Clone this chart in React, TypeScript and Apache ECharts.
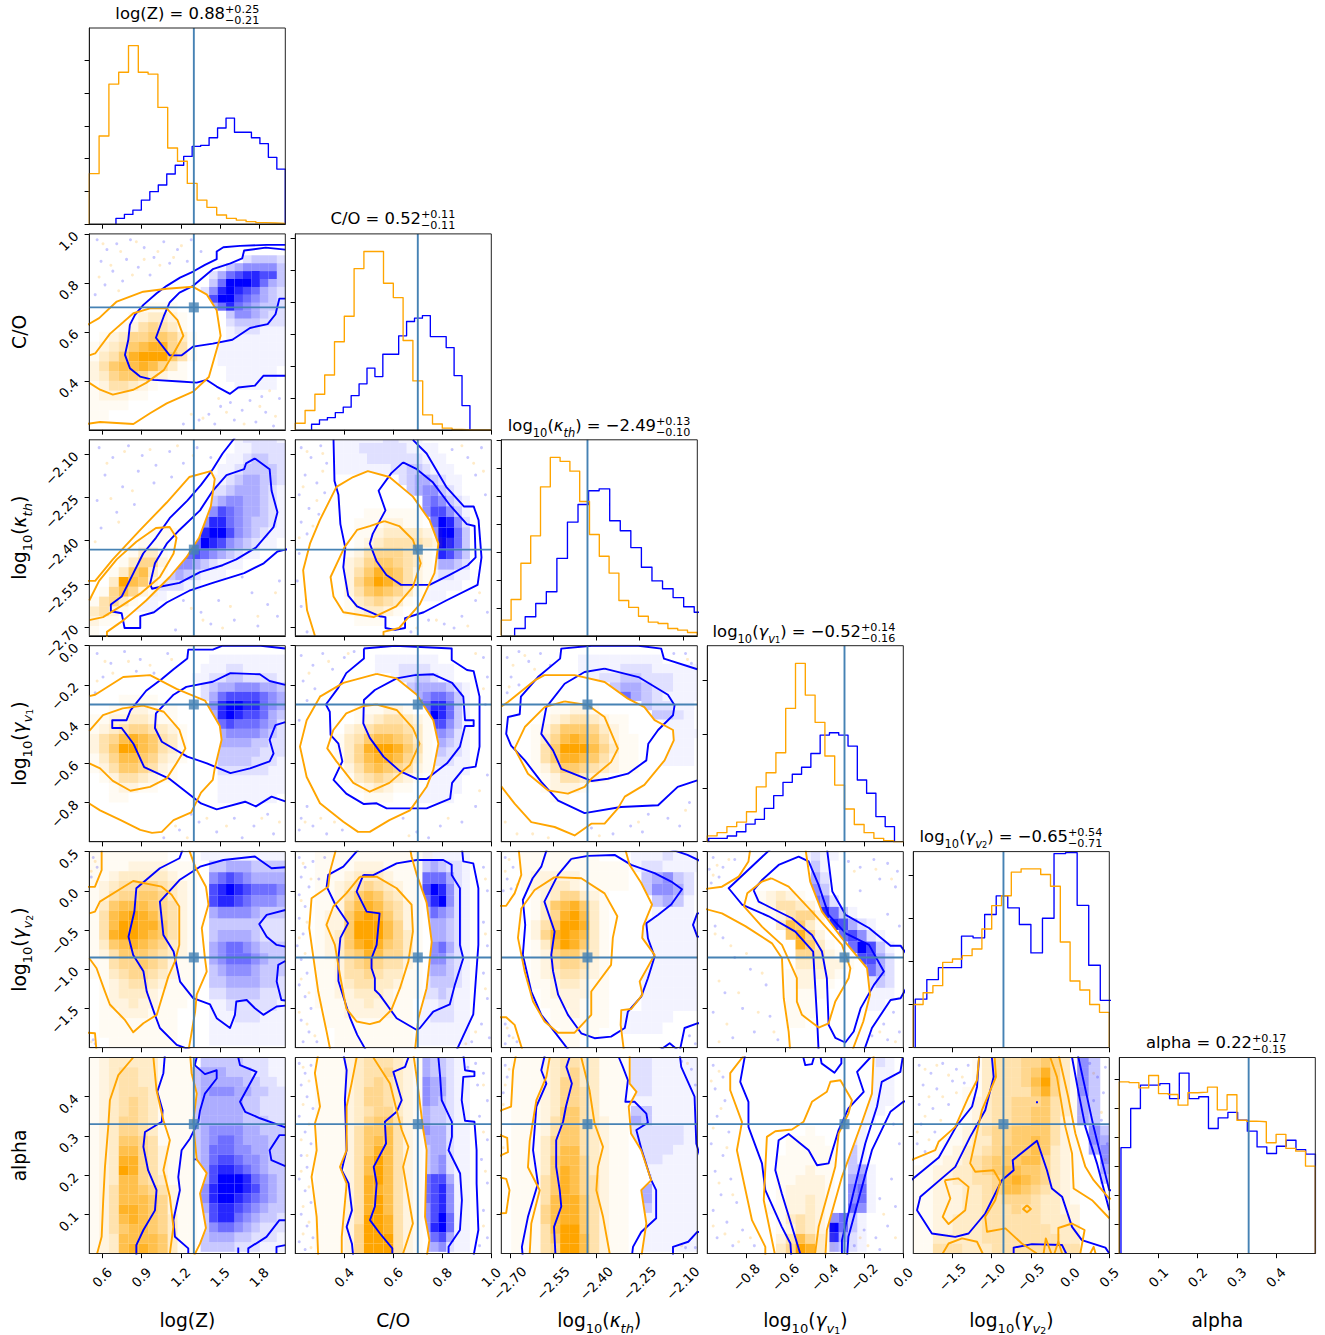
import React, { useEffect, useRef } from "react";
import * as echarts from "echarts";

const FONT = '"DejaVu Sans"';
const BLUE = "#0000ff";
const ORANGE = "#ffa500";
const TRUTH = "#4682b4";

// parameters: axis ranges, truths, ticks
const rangeLogZ = [0.5, 2.0];
const rangeCO = [0.2, 1.0];
const rangeKappa = [-2.73, -2.05];
const rangeG1 = [-1.0, 0.0];
const rangeG2 = [-2.0, 0.5];
const rangeAlpha = [0.0, 0.5];
const ranges = [rangeLogZ, rangeCO, rangeKappa, rangeG1, rangeG2, rangeAlpha];
const truths = [1.3, 0.7, -2.431, -0.3, -0.85, 0.33];
const ticksLogZ = [0.6, 0.9, 1.2, 1.5, 1.8];
const ticksCO = [0.4, 0.6, 0.8, 1.0];
const ticksKappa = [-2.7, -2.55, -2.4, -2.25, -2.1];
const ticksG1 = [-0.8, -0.6, -0.4, -0.2, 0.0];
const ticksG2 = [-1.5, -1.0, -0.5, 0.0, 0.5];
const ticksAlpha = [0.1, 0.2, 0.3, 0.4];
const ticks = [ticksLogZ, ticksCO, ticksKappa, ticksG1, ticksG2, ticksAlpha];
const decimals = [1, 1, 2, 1, 1, 1];
// blue histogram bin layout, percent of the axis range: start, width
const blueBinStart = [13.6, 8.3, 6.8, 0.7, 1.0, 0.85];
const blueBinWidth = [4.32, 4.04, 5.39, 4.74, 5.9, 4.96];

// 1-D histograms, percent of panel height
const histOrange0 = [25.7, 44.9, 71.4, 77.4, 91, 77.4, 76.5, 59.5, 38.8, 32, 20.7, 12.2, 8.5, 4.6, 2.9, 2, 1.2, 0.7, 0.5, 0.3];
const histBlue0 = [2.9, 4.9, 7.1, 12.2, 16.5, 19.9, 25.5, 30, 34.5, 39.6, 40.1, 44, 49, 54, 46.8, 46.8, 44, 41, 34, 28];
const histOrange1 = [3.4, 9.9, 18.2, 28, 45, 58, 82.3, 91, 91, 74.8, 67.5, 45.6, 25, 7.7, 3, 0.9, 0.2, 0, 0, 0];
const histBlue1 = [2.9, 5.1, 6.3, 8.8, 11.6, 17.5, 23.5, 31.5, 27.2, 38.6, 38.6, 48, 55.3, 57, 58.3, 47.6, 47.6, 42, 27.7, 12.4];
const histOrange2 = [8, 18.5, 37, 51, 76, 91, 89, 84, 68.5, 51.7, 40.6, 32, 18, 14.5, 10, 7, 6.3, 3.7, 2.9, 1.7];
const histBlue2 = [3.7, 9.7, 16.5, 22.5, 39.5, 58, 67, 74, 75, 58.7, 53.6, 45, 35, 28, 24, 19.5, 14.8, 12, 10, 8];
const histOrange3 = [3, 4.6, 7.7, 10, 15.3, 28, 35.2, 45.4, 68, 91, 74.8, 60.9, 43.7, 28.9, 16.7, 8.8, 4.6, 1.7, 0.5, 0];
const histBlue3 = [1.7, 1.7, 2.9, 5.1, 9, 11.4, 17, 23.5, 30.3, 34.4, 38, 45, 54.4, 55.6, 54.4, 48.8, 31.5, 24.7, 12.8, 7.7];
const histOrange4 = [22, 28, 31.6, 43.5, 45.2, 46.9, 50.3, 60.5, 72.4, 77.5, 89.5, 91.2, 91.2, 88.3, 82.3, 53.9, 34, 29.4, 22, 18];
const histBlue4 = [24.7, 34.7, 40.8, 40.8, 56.9, 56, 67.9, 77.4, 71.3, 62.8, 48.3, 66, 99, 99.5, 72.6, 42, 24.1, 24, 24, 24];
const histOrange5 = [87.6, 87.2, 84.5, 90.8, 81.6, 81.1, 75.7, 82, 82.3, 84.9, 73.3, 81, 68, 67.5, 67.2, 56.5, 60.8, 53.6, 52.2, 44.6];
const histBlue5 = [54, 74, 85.9, 85.9, 86.7, 79, 92, 79, 80, 63.8, 69.2, 72, 68, 62.4, 54.4, 51, 54.7, 57.8, 53, 50.7];
const histOrange = [histOrange0, histOrange1, histOrange2, histOrange3, histOrange4, histOrange5];
const histBlue = [histBlue0, histBlue1, histBlue2, histBlue3, histBlue4, histBlue5];
const histTickStep = [16.67, 16.33, 14.28, 27.4, 22, 14.8];

const c10bo = [100,5.6,90.5,5.6,76.9,6.1,68.4,6.8,65,9,65,12.9,59,15.8,53,19.2,46.3,22.3,39.5,26.5,34.4,30.3,27.6,36.2,23.3,41.3,20.7,46.4,19.9,54,18.2,61.7,20.7,68.5,25.9,72.8,32.7,74.5,46.3,75.3,54.8,75.9,59.9,74.5,65,77.9,71.8,81.6,76,78.4,84.5,77.4,88.8,72.4,100,72.4];
const c10bi = [[100,33,97,33,95,41,91,46,82,48,73,54,63,56,53,57.5,47,62,41,62,34,53,38,42,41,35,46,30,53,26.5,63,18,72,15,78,12.5,79,8.5,90,7,100,8]];
const c10oo = [-2,47,5,43,14,34.5,27.5,29.5,39.5,28,53,27,60,31,65,39,67,52,63,66,61,73,53,80.5,39.5,86.5,31,91.5,22.5,97,5.5,96,-2,97];
const c10oi = [[0,62,3,61,10.5,51,22.5,40.5,31,38,39.5,38,45,44,48,52,43,61,38,69.5,29,76,22.5,79.5,12,82,5.5,79.5,0,76]];

const c20bo = [75,-2,68,7,63,15,57,23,50,31,41,40,34,50,27.5,58,22.5,68,16.5,80,11,84,11,87.5,16.5,88.5,18,96,26,96,26,90,33,88,39.5,83,51,77,63,73,79,68,89,63,96,57,100,56,102,56,102,-2];
const c20bi = [[84.5,9.5,92,15,93,26,96,37,94,44.5,85,55,75,61,68,64,56.5,67.5,46,73,36,75,32,76,31,73.5,33.5,63,39.5,53,46,46,56.5,36,63,26,70,18,79,15,80,12,84.5,9.5]];
const c20oo = [-2,72,3,72,12,61,26,46,39.5,32,51,19,62,16,64,20,62,34,56,50,49.5,60,41,70,29,82,17.5,92,9,98,9,102,-2,102];
const c20oi = [[0,92,7,90.5,16,85,26,78.5,36,70,43,58,44.5,50,41,44.5,34,45,24,52,14,61,5,72,0,82]];

const c21bo = [19.5,0,20,21,22,28,23,43,25.5,55,24.5,65,27,79.5,31.5,85,43,90,46,90.5,46,96,51,97,56,96,56,91,65.5,88,77,82,93,74,95,60,93.5,41,91,34,86,34,77,24,67,7,60,0];
const c21bi = [[55,11.5,62,15,70,21.5,79,33.5,87.5,43,91.5,44,92,60,88,64,78.5,69,68.5,74,54,74,46.5,69,41.5,62,38,53,39.5,48,46,36,42.5,26,49,17,55,11.5]];
const c21oo = [10,100,6,87,4,66.5,7.5,53,12.5,41,21,24,29.5,19,37,16,48,19,60,29,68.5,41,73,53,71,68,63.5,84,53,96,45,98,45,100];
const c21oi = [[45.5,41.5,53,44,60,51,64,63,60,75,51.5,85,40,90.5,24.5,88,19.5,80,18,70,25,55,31.5,46,38,44,45.5,41.5]];

const c30bo = [100,1.4,87.5,0,68,0,63,2,50.5,2,50,6.5,43,12,37,17,29,23,21,33,19,38,11.7,38,11.7,42,16.5,42,22.5,50,28,62,41,68,57,80.5,65,83.5,79.5,79.6,85,82,93,77,100,79.4];
const c30bi = [[100,20,92,18,87,14.6,72,14,63,18.4,49.5,21,43,25,34,34.5,33.5,42,37,49,50,56.6,60,60,72,65,82,62.6,92,59,94,55,92,48,95,40.5,100,39]];
const c30oo = [0,25.7,3,25,17.3,16,31,15,44.5,22,59,28,66.6,41,67.5,48,64,62.6,63,68.5,57,75,52,85,43,89,37,95,32,95.5,26,94,16,89,5.5,84,0,80.5];
const c30oi = [[0,43.4,7,35.4,17,32,27.5,30.6,38,33.7,46,43,49,52.4,44.5,60,39.5,67.7,31,72,21,74,12,69,5.5,62.6,0,60]];

const c31bo = [35,1.4,35,6.5,26,14,21.7,21.8,15.6,30,17.6,33.7,18,45.5,22,50,24,59,19.5,68.5,26,75.5,35,80.8,41.5,80.4,46.6,83,67,83,79,78,80,70,86,62.6,92,61.7,94,51.5,94,26,91,13,87.6,12.4,79.8,7.3,79.8,1.4,50.8,0,35,1.4];
const c31bi = [[61,15,70.4,14.6,80,19,85.7,26,86.6,38,91,38,91,41,86.6,41,84,51.5,77.4,60,67,68,62,68,53.4,64,45,56.6,38,47,34.7,39.6,35,27.7,40.6,22.6,51.7,16.7,61,15]];
const c31oo = [41.5,14.4,51.7,16.7,62,25,70.4,38,73,50,70.4,63.4,67,72,58.5,84,48,89,38,95,32,95,24.5,89.8,12.6,80.4,5.8,67,2.4,51.5,5.8,38,12.6,26,24.5,19,41.5,14.4];
const c31oi = [[41.5,30,51.7,32.8,60,42,63.4,50,58.5,60.9,48,70,38,74.5,29.6,70,21,59,16.3,52.4,19.4,43,26,34.5,34.7,30.8,41.5,30]];

const c32bo = [100,12,83,6.6,81.6,1.5,70,0,46,0,30.6,1.5,30,6.6,18.7,16,10,26,9.4,35,3.4,36.4,2.5,45,5,51,12,58.5,20.4,69.5,29,79,42.5,85.4,61,82.3,80,81.4,90,72,100,68.7];
const c32bi = [[52.7,11.7,70,16,85,25,88.4,30.4,87.6,35.5,80,43,75,50,74,58.5,64.6,65.3,54.4,67.9,46,69,30.6,62.8,26.4,53.4,20.4,45,23,31.3,32.3,19.4,42.5,13.4,52.7,11.7]];
const c32oo = [0,31,3.4,28.7,17,17.7,22,15,37.4,15,52.7,18.5,64.6,27,73,31.3,78.2,38,87.6,43,88,48.3,83.3,58.5,73,71,63,77,59.5,83,52.7,90.8,45.9,90.8,37.4,96.8,27.2,92.5,15.3,90,6.8,80.6,0,71.8];
const c32oi = [[32.3,28.4,44.2,30.4,52.7,36.4,59.5,52.5,56,59.4,45.9,67.9,42.5,72,34,75.5,23.8,73.8,13.6,65.3,6.8,52.5,12,41.5,22.1,31.3,32.3,28.4]];

const c40bo = [48,-2,46,3.4,36,8.5,30,13.6,24,18.7,23,30.6,20,43.4,22.4,52.7,27.6,61,29.3,71.4,33.5,83.3,36,90,44.6,98.6,54,102,102,102,102,-2];
const c40bi = [
  [100,8,93,8.5,84.5,2.5,68.4,4.3,56.5,7.7,46,14.5,36,25.5,37.8,42.5,43,51,46.3,66.3,53,74.8,61.6,78,65,85,71.8,90,74.3,83.3,75,76.5,80.3,75.7,84.5,79.9,88.8,83.3,95.6,79,100,78.6],
  [100,29.8,90.5,32.3,86.7,37,90.5,43.4,95.6,47.6,100,48.5],
  [100,55.8,96.4,57.8,95.6,66.3,98,75.7,100,76],
];
const c40oo = [6.3,-2,6.3,9.4,2.9,17.9,-2,18,-2,92.3,2.9,92.7,3.7,102,50.5,102,52,93.5,54,81.6,54.8,73,59.9,61.2,59,54.4,57.4,39,60.8,27,59.5,17.9,54,7.7,50.5,-2];
const c40oi = [[0,31.5,2.9,30.6,5.4,25.5,22.4,15,36.9,17.9,42,22,45.9,28,45.9,47.6,43.7,56,40.3,63.8,36,78,34.4,83.3,27.6,87.6,22.4,92.2,18,85.7,10.5,78,8,71.4,3.7,59.5,0,54.4]];

const c41bo = [33,-2,24.5,7.7,16.8,11.9,16,17.9,20.4,27,26.9,36.6,23,44,22,54.4,22,66,28,85,31.6,93.5,36.4,102,82,102,90.8,83,93.4,47.6,93.4,18.7,90.8,6,85.7,5,85,-2];
const c41bi = [[34.7,11.9,39.8,12,51.7,6,62,4.3,75.5,4.3,79.8,6.8,79.8,11.9,84,18.7,84,47.6,85.7,54.4,81.4,68,78.8,78,70.4,81.6,63.6,90,62,91,51.7,85,43,73,40.6,70.6,40.6,64.6,38.9,59.5,38.9,54.4,41.5,47.6,43,31.5,36.4,30.6,31.3,20.4,34.7,11.9]];
const c41oo = [21,-2,17.7,10.2,16.8,17.9,8.3,23.8,7.1,39,11.7,71.4,16,92,18,102,61,102,62.8,85,67,69.7,69.6,46,67,26,62,11.9,59.3,2.5,58.5,-2];
const c41oi = [[33,12.8,41.5,12.8,51.7,18.7,59.3,27,60,40.8,57.7,56,53.4,69.7,49,80.8,43,86.7,38,88,31.3,86.7,26,80,22.8,63,20.2,47.6,15.9,37.4,19.4,28,26,21.3,33,12.8]];

const c42bo = [23.5,-2,20.4,7.7,16,13.6,11,24.7,12.2,37.4,11,52.7,15.3,71.4,20.4,83.3,27.2,92,34.9,102,80,102,85.9,97.8,91,102,93.5,90,100,87.6,102,87.6,102,43.4,100,43.4,97.8,37.4,100,31.5,102,31.5,102,5,95,1.7,84,-2];
const c42bi = [[35.7,3.7,44.2,2.2,57.8,1.7,66.3,6.8,78.2,11,86.7,15.3,92.2,19.2,86.7,27,79.9,32.3,74,36.6,74.8,44.2,78.2,53.6,74.8,64.6,71.4,74,64.6,81.6,63,90,56,94.4,47.6,95.2,40.8,92.7,34,83.3,29,73,26.4,61,25.5,52.7,27.2,40.8,22,25.5,28.9,11.9,35.7,3.7]];
const c42oo = [8.8,-2,10.2,11.9,6.8,21.3,2.5,27.6,-2,27.7,-2,84.5,2.5,84.5,6.8,88.4,11,102,62.6,102,60.9,88.4,61.2,80.9,66.3,80.3,72,73,70.6,66.3,78.2,52.7,71.9,44,72.4,38,76.9,27,71.4,16,65.5,6.8,63,-2];
const c42oi = [[27.2,13,40.8,13.6,52.7,21.3,59.2,33,56.9,44,56,57.8,45.9,71.4,45.9,83.3,37.4,92.4,28.9,92.4,22.1,86.7,16.2,76.5,11.9,61,8.5,44,10.2,29,17,19.6,27.2,13]];

const c43bo = [33,-2,10.9,18.7,17.7,27,31.3,33,44.9,40.8,54,51,55,68,56,85,56.8,102,79.8,102,84,90,93.5,75.7,98.6,74.8,102,68.9,102,52.7,98.6,48,93.5,48,82.5,39,70.6,32.3,63.8,20.4,61,-2];
const c43bi = [[23.6,19.6,27.9,14.5,36.4,6.8,46.6,2.6,51.7,5,56.8,17,61.9,32.3,70.6,41.7,82.5,47.6,90.1,61.2,85,68,78.2,80,74.7,91.8,70.4,97.4,65.3,95,61.9,88.4,61,64.6,58.5,51,53.4,42.5,43.2,34,34.7,29.8,26.2,25.5,23.6,19.6]];
const c43oo = [22,-2,21,5,16,12.8,7.5,17.9,-2,19.2,-2,29,7.5,31.5,19.4,38,33,46.8,38.1,54.4,39,74.8,41.5,91.8,42.3,102,73.8,102,79.6,86.7,83,73,81.5,59.5,68.7,44.2,58.5,30.6,52.5,15.3,50,-2];
const c43oi = [[32.7,13.6,41.5,17.9,53.4,30.6,68.7,47.6,73,59.5,72.1,64.6,65.3,76.5,61.9,87.6,56.8,89.8,48.3,83.3,45.7,76.5,45.7,64.6,38.1,47.6,27.9,38.3,18.7,28,20.4,21.3,27.9,15.3,32.7,13.6]];

const c50bo = [38.6,-2,37.8,8,34.7,17.5,37.4,27,37,32.8,28.4,38,27.6,45.6,30,57.5,34.3,67.7,33.5,78,27.6,88,24,95.7,24,102,102,102,102,-2];
const c50bi = [
  [54.8,0,53.8,3.9,59,8.5,65,6.5,65,10.7,59,18.4,56.5,27,55.6,32.8,51.4,41.3,47.1,47.3,45.4,61,46.2,67.7,42.9,83,43.7,91.5,50.5,97.4,50.5,100],
  [76,0,76.9,3.9,85.3,7.3,76.9,22.6,79.5,27.7,87.1,31,100,35.7],
  [100,39.6,97,39.6,92,47.3,92.9,52.4,100,55.4],
  [100,83,97,83,90.4,91.5,81.1,97.4,81.1,100],
  [76,97,76,100],
  [95.5,100,95.5,96.6,100,95.7],
  [53,52,55,52],
];
const c50oo = [-2,-2,51.4,-2,52.2,8,54.8,18.4,53,32.8,53.8,42,54.8,52,59.9,59,56.5,69.4,59.5,87,56.5,95,53,102,-2,102];
const c50oi = [
  [22.4,0,14.8,9,10.5,21.8,9.7,35,8,55.8,7.1,72.8,6.3,91.5,4,100],
  [32.7,0,34.3,16.7,37.8,32,41.1,42.2,37.8,57.5,41.1,71,42.9,86.4,41.1,100],
];

const c51bo = [24.5,-2,26.2,6.5,25.3,21.8,26.2,47.3,24.5,54,23.7,57.5,27.2,64.3,28.9,78,26.2,86.4,28.9,95,29.6,102,90.8,102,93.4,88,92.5,64.3,92.5,47.3,91.4,32.8,86.6,32.3,84.9,21.8,85.7,9.9,91.4,9.5,91.4,7.3,86.6,6.5,85.7,-2];
const c51bi = [
  [57.7,0,56,4.8,50,7.3,54.3,21.8,51.7,27.7,45.7,32.8,46.3,43.9,40,55.8,41.5,64.3,40.6,76,38.1,83,43.2,89.8,49.5,97.4,49.5,100],
  [73,0,73.9,9.9,74.7,21.8,79.9,32.8,79.9,40.5,78.2,47.3,84.1,59.2,85,72.8,84,88,78.2,96.6,78.2,100],
];
const c51oo = [11.7,-2,10,8,12.6,25,10,33.7,10.9,47.3,8.3,60.9,10.9,81.3,11.7,102,67,102,68.4,93.2,66.2,81.3,67,47.3,65.3,37,61.9,9.9,60.2,-2];
const c51oi = [
  [31.3,0,28.7,13.3,26.2,25,26.2,47.3,22.8,55.8,26.2,64.3,23.7,91.5,23.7,100],
  [39.8,0,48.3,13.3,51.7,26.9,54.3,37,57.7,45.6,55,55.8,60,84.7,55,100],
];

const c52bo = [22.4,-2,20.4,6.5,23,13.3,17.9,25,16.2,47.3,18.7,64.3,13.6,81.3,10.5,96.6,11,102,87.6,102,87.6,96.6,95.4,94,100,89,102,89,102,52,99.5,44,98.6,20,91.8,4.8,91,-2];
const c52bi = [
  [34.8,0,33.2,4.8,36,13.3,33,25,31.5,32.8,28,42.2,28,55.8,29.8,67.7,30.6,76,26.9,86.4,27.6,100],
  [60,0,62,4.8,64.6,11.6,63.3,22.6,68,22.6,74,28.6,74.8,33.3,68.9,37,71.4,46.4,76.5,62.6,79,67.7,79,82,71.4,89,67.2,96.6,66.8,100],
];
const c52oo = [7.6,-2,6,6.5,5,25,-2,27.7,-2,39,3,41,3.4,48.3,-2,50.7,-2,61,2.5,61.9,4.2,67.7,2.5,79.3,-2,79.6,-2,102,71.4,102,74,84.7,71.4,67.7,76.5,62.6,71.4,47.3,66.2,38.8,65,25,69,17.5,65.5,13.3,65.5,-2];
const c52oi = [
  [24.7,0,23,9.9,17.9,21.8,14.5,42.5,13.6,56,19.6,67.7,15.3,84.7,14.5,100],
  [40.8,0,45,16.7,47.6,33.7,51.9,45.6,49.3,55.8,48.5,67.7,51.9,81.3,55.3,100],
];

const c53bo = [19.4,-2,16.8,12.4,21,22.6,21,35.4,27.9,54,29.6,67.7,38,86.4,42.4,94.9,42.9,102,71.3,102,72,91.5,84,47.3,93.4,27.7,100,22.6,102,22,102,-2];
const c53bi = [
  [47.4,100,38,69.4,34.7,57.5,36.4,42.2,41.5,39,51.7,47.3,56,55,61.9,54,67,37,72,26,79.8,17.5,76.4,7.3,83.2,0],
  [99.7,0,98.5,7.3,89,12.4,86.6,25,80.6,43.9,68.7,93.2,68.7,100],
  [49,0,50,3.9,53.4,3.4,54.4,0],
  [57.8,0,58.3,3,64.9,7.8,68.4,3,68.4,0],
];
const c53oo = [19.4,-2,11.7,8,11.7,16.7,17.7,33,15.1,47.3,22.8,83,29.6,96.6,29.6,102,60.2,102,61,88,68.7,60.9,79,32.8,84,18.4,84.9,-2];
const c53oi = [[34.4,100,28.8,72.8,30.4,40.5,34.7,37.6,43.2,36.7,49.1,32.8,53.4,22.6,61,17.5,62.8,12.4,67.9,11.6,73.8,21.8,72,28.6,67,38.8,65.3,55.8,56.8,86.4,55,100]];

const c54bo = [-2,63.4,13,51,22,35,30,25,32.5,15,33.7,-2,83.8,-2,92,35.4,100,67.7,102,67.7,102,102,-2,102];
const c54bi = [
  [40.1,0,41,9.9,36.7,26.9,29,40.5,21.4,55.8,3.6,71,1.9,77.9,9.5,89.8,21.4,91.5,28.2,89.8,36.7,79.6,45.2,62.6,51.2,57.5,50.7,52.4,63.1,42.5,68.2,57.5,70.7,66.8,75.9,71,81,86.4,86,93.2,98,97,100,100],
  [81,0,84.4,18.4,87.8,35.4,93.7,54,100,77.9],
  [51.2,100,51.2,97,60.5,95.2,75.9,95.7,78,100],
  [62.6,22.8,63.6,22.8],
];
const c54oo = [-2,52.7,11.2,47.3,12.9,43,21.4,35.4,28.2,20,32.5,11.6,33.7,-2,74,-2,79,20,82.7,38.8,87.8,55.8,92,62.6,100,72,102,72,102,102,-2,102];
const c54oi = [
  [41.5,0,42.2,9.9,35,26.9,29,54,31.6,58.3,41,57.5,44.4,63.4,41.8,72.8,36.7,81.3,37.6,88.9,47,87.2,55.4,94.9,63,100],
  [69.9,0,73.3,9.9,77.6,35.4,81,49,81.8,66.8,91.2,72.8,100,82],
  [16,62.6,23,61.7,28.2,66,26.5,77.9,18,85,15,81.3,18.9,71.9,16,62.6],
  [15,100,18,94.9,24.9,92.3,32.5,94,35.4,100],
  [58,75.4,60,77.3,58,79,56,77.3,58,75.4],
  [66.5,100,67.6,92.3,70.4,100],
  [72,100,74,94,75.9,100],
  [74,95,74,87,81,84.7,87.4,88,85.2,100],
  [90.3,100,92,96.6,93,100],
];

// Sparse samples seen outside the contours (percent of the panel), blue then orange.
const s10b = [4,3,9,8,14,5,21,3,28,7,33,12,38,4,45,8,52,3,6,14,12,19,19,13,25,17,31,21,8,26,17,24,3,31,41,15,57,9,50,14,61,92,67,88,74,95,82,85,90,91,97,84,72,86,56,95,48,97,85,96,94,98,78,90,64,97,88,83];
const s10o = [7,5,16,9,24,4,35,9,43,12,11,16,22,21,36,16,5,22,28,13,47,6,15,29,58,94,70,91,79,97,87,88,95,93,66,84,52,92,92,80];
const s20b = [5,4,12,9,20,3,27,8,34,13,41,6,48,12,55,4,62,9,8,18,17,24,25,16,33,22,42,19,4,31,14,37,23,33,6,45,48,82,57,88,66,82,74,92,83,78,91,84,97,72,78,70,62,94,44,97,86,95,96,90];
const s20o = [9,12,18,6,31,5,45,3,53,8,11,30,22,26,3,52,15,42,58,92,72,85,86,90,52,86,95,78,68,96];
const s21b = [3,4,8,9,13,3,16,12,5,18,11,22,2,28,15,27,7,35,3,42,12,38,6,48,2,58,1,72,3,85,6,98,80,5,88,9,95,4,92,18,97,28,98,88,85,90,76,94,68,92,92,82,59,98,81,96];
const s21o = [6,6,14,16,4,24,11,31,9,44,2,50,14,7,91,12,85,3,96,16,72,92,88,95,62,96,94,78];
const s30b = [4,4,11,9,18,3,26,7,33,14,40,4,7,16,15,20,3,24,24,13,91,86,84,92,74,88,65,95,56,90,46,94,38,98,78,98,94,96,52,86];
const s30o = [8,8,20,8,31,10,42,7,12,14,4,18,97,90,88,88,70,92,60,88,50,98,44,92];
const s31b = [3,5,9,10,14,4,19,12,25,6,30,3,4,18,10,22,6,28,13,26,2,38,3,88,9,92,16,96,24,94,6,82,2,94,96,6,98,16,97,30,98,66,92,82,85,90,74,92,62,95,55,88,68,98];
const s31o = [7,14,17,8,27,4,11,32,92,4,96,22,5,90,13,88,20,90,58,97,78,88,94,74];
const s32b = [3,6,9,3,14,8,20,4,25,10,5,16,9,20,3,24,94,4,97,9,88,4,91,92,85,88,75,86,66,92,57,96,46,93,72,95,96,80];
const s32o = [6,10,12,5,17,12,4,21,95,7,2,90,8,96,16,96,24,98,94,84,70,90,50,97];
const s40b = [2,3,4,8,1,13,2,96,3,98];
const s40o = [3,5,1,10,1,97];
const s41b = [2,3,5,8,9,5,3,13,7,18,12,14,2,22,5,28,2,34,4,42,1,48,3,55,6,62,2,68,5,74,8,80,3,86,7,92,11,97,4,97,15,3,96,8,98,20,96,36,98,48,96,62,98,75,95,88,99,95,90,97,85,93,88,88];
const s41o = [4,6,8,14,3,25,6,36,2,44,5,52,3,65,7,72,2,82,6,88,10,94,97,14,97,42,97,70,92,92,87,98];
const s42b = [2,3,6,8,3,14,1,20,5,19,98,30,96,94,99,98,2,88,4,94,8,97,2,98];
const s42o = [4,4,2,10,8,17,3,90,6,95];
const s43b = [3,3,8,8,14,4,6,13,2,16,1,9,72,5,78,8,85,4,92,6,97,10,88,14,96,18,78,20,92,32,98,38,8,44,14,54,4,38,22,60,30,68,9,72,18,80,3,82,32,84,24,92,36,96,13,95,84,94,90,88,95,82,92,96,98,92];
const s43o = [5,7,11,4,3,12,75,10,86,9,94,14,4,42,12,48,20,52,28,62,16,72,6,66,26,82,10,88,34,92,6,97,88,92,96,97];
const s51b = [2,3,5,8,8,4,3,14,6,20,9,26,2,30,5,38,8,44,3,50,6,56,2,62,5,68,8,74,3,80,6,86,9,92,2,94,5,98,88,5,92,3,96,8,93,14,98,22,94,30,98,42,95,52,98,64,96,78,98,92,94,96];
const s51o = [4,5,7,12,4,24,7,34,3,42,6,50,3,58,7,66,4,76,7,84,4,90,8,97,96,14,96,38,97,58,96,86];
const s52b = [2,4,3,10,1,18,2,52,3,58,1,84,2,90,4,96,92,2,97,6,99,14,97,92,94,97,99,97];
const s52o = [4,6,2,14,1,24,1,46,3,88,6,98,95,3,92,96];
const s53b = [3,4,8,10,4,16,9,22,5,30,11,38,2,44,8,50,4,58,12,62,7,70,15,74,3,78,10,84,18,88,5,92,13,96,24,96,88,98,92,86,86,92,96,76,80,88,75,96,98,44,94,62,88,72,95,34];
const s53o = [6,7,2,12,7,26,3,36,10,46,6,64,13,70,3,86,9,90,16,94,22,92,82,96,90,80,96,92,78,92];
const s54b = [3,4,9,8,15,3,22,6,28,4,5,14,12,16,20,12,26,13,3,24,10,26,18,24,4,34,11,38,2,44,6,48,90,3,94,10,98,5,92,22,97,18,96,32,99,44];
const s54o = [6,6,12,4,18,9,25,10,8,20,15,20,22,18,6,30,14,32,2,38,8,42,92,8,96,28,98,52];

// 2-D density cells: digit 0-9, rows top to bottom, last row is the lowest bin.
const d10b = ["00000000000000023332","00000000000013455553","00000000000246788773","00000000000369998643","00000000002589876432","00000000003799765432","00000000000468654332","00000000000003554322","00000000000002333222","00000000000001222111","00000000000001111111","00000000000011111111","00000000000011111111","00000000000011111111","00000000000001111110","00000000000001111110","00000000000000111110","","",""];
const d10o = ["0000011110","0000123321","0001245431","01235566531","12346788541","13468999641","24677875310","2356653211","1244321","1222110","1111","11",""];
const d20b = ["00000000000000122221","00000000000000112222","00000000000001123322","00000000000011233332","00000000000112344332","00000000000223444321","00000000000345544321","00000000003576544321","00000000035886543321","00000000058997543211","00000000369875432110","00000003676543211000","00000035543211100000","00000234321110000000","00011222110000000000","00111100000000000000","11111",""];
const d20o = ["00000011100000","0000011100","00001331","00013552","00136731","00397621","0157521","14531","3421","211","1"];
const d21b = ["00011111122111000000","00011122222211110000","00011112222222111000","00011111112233211100","00000000000234432110","00000000000034553210","00000000000000565321","00000000000000577531","00000000000000069852","00000000000000059963","00000000000000059863","00000000000000048753","00000000000000024432","00000000000000112211","00000000000011111110","00000000001111111","0000000011111","00000011"];
const d21o = ["0000000111111","000000111221100","00000011233332100","00000012344443210","00000124555431","00000235665431","00000246876421","00000257986421","00000246765310","000001345431","00000123321","000000111",""];
const d30b = ["00000000000111111111","00000000001112211111","00000000011223322221","00000000002344555443","00000000002467777654","00000000000589988654","00000000000489877643","00000000000067666542","00000000000045555432","00000000000044443322","00000000000033333222","00000000000033332221","00000000000022222211","00000000000011111111","00000000000011111111","00000000000011111110","","","",""];
const d30o = ["0001111","0011221110","1122332110","1234554321","2457876431","2469976431","1357765321","1246654210","0124432110","0012211","0011","","","",""];
const d31b = ["00000000111111110000","00000000111222211100","00000000001223321100","00000000000034444321","00000000000004566531","00000000000000688631","00000000000000698631","00000000000000077531","00000000000000055421","00000000000000044321","00000000000000033221","00000000000000122211","00000000000000111111","00000000000001111110","00000000000001111110","00000000000011111100","","","",""];
const d31o = ["000000111221","00000012344321","00000234555431","00001346776531","00001358998641","00001357887531","00000246765421","00000134543210","00000012321100","0000000111","","","",""];
const d32b = ["00000011111111000000","00000011112221111100","00000001223322211111","00000000034432211100","00000000006432111100","00000000000032211000","00000000000003321000","00000000000000111000","00000000000000111100","00000000000000111","00000000000000111","00000000000000111","","","","","","","",""];
const d32o = ["0000011221","0000123443211","0001246665321","00013578764211","00014699975311","00014688764211","00012466543211","00001244321","000012221","0000011","","","",""];
const d40b = ["00000000001111111111","00000000000334443333","00000000000567654444","00000000000789876665","00000000000788765554","00000000000455554333","00000000000333333222","00000000000344443222","00000000000456654333","00000000000456665433","00000000000345554333","00000000000334444332","00000000000223333222","00000000000112222221","00000000000111222111","00000000000111111111","00000000000111111111"];
const d40o = ["1111111100","11112222111","11233333211","12344554321","12455665321","13677765421","14789875421","14799886421","14899876421","13678765321","12466654321","11455654211","11345543211","01234432111","01233321111","01223221110","01122211100","01111111100","01111111100","00111111100"];
const d41b = ["00000000000000111111","00000000000000343221","00000000000000666421","00000000000000798521","00000000000000689521","00000000000000465421","00000000000000344321","00000000000000344321","00000000000000456421","00000000000000355321","00000000000000344321","00000000000000233321","00000000000000223211","00000000000000112211","00000000000001122211","00000000000001111111","00000000000001111111"];
const d41o = ["00111111111111","00111122211110","00111233321110","00112345432110","00112467643110","00112578754210","00122689864210","00122699975210","00123699975310","00123689865310","00123568755310","00112456544210","00112445433110","00112344332110","00112233321110","00111223221100","00011222221100","00011111111100","00001111111100","00001111111100"];
const d42b = ["00000000000111211100","00000000000122111100","00000000000034532000","00000000000035542000","00000000000003431000","00000000000001111000","00000000000011111110","00000000000011111110","00000000000011111110","00000000000011111110","00000000000011111110","00000000000011111110","00000000000011111110","00000000000011111100","00000000001111100000","00000000001111000000","00000000000000000000"];
const d42o = ["0011111111","0011111111111","0012222211111","0012233211111","00012355321","00013678631","00013589731","00024699831","00025898731","00013798631","00012566431","00012455421","00012344321","00011233211","00001222211","00001122111","00000112111","00000111111","00000011110","00000011000"];
const d43b = ["00000000001211","0000000000031","0000000000042","0000000000053","00000000000652","000000000000863100","0000000000000874210","00000000000000675210","00000000000000069731","00000000000000007742","00000000000000003642","00000000000000000232","00000000000000000111","00000000000000000110","","",""];
const d43o = ["0000012321","00000124432","000000124552","0000000376310","00000000685200","000000000863100","000000000554210","000000000333221","00000000122221","00000000122110","0000000011110","000000001110","000000001110","00000000110","0000000",""];
const d50b = ["00000000003333322211","00000000034443332211","00000000034444433221","00000000034555443322","00000000034444433222","00000000034444433222","00000000034444433322","00000000034555544333","00000000034566544433","00000000034666554433","00000000034677655433","00000000034788765433","00000000004799986543","00000000005899987543","00000000005899876543","00000000004788765433","00000000003788654332","00000000003566543222","00000000003444332221","00000000003333222111"];
const d50o = ["12333331111","12344331111","12344331111","12344431111","12345431111","12345431111","12355431111","12355431111","12366541111","12377542111","12388542111","12398542111","12377543111","12477654211","12477765211","12488765211","12478765311","12467765311","12377776311","12378876311"];
const d51b = ["00000000000000433211","00000000000000433211","00000000000000544211","00000000000000544211","00000000000000543211","00000000000000433211","00000000000000433211","00000000000000544211","00000000000000444211","00000000000000344211","00000000000000345211","00000000000000345211","00000000000000677411","00000000000000678511","00000000000000678511","00000000000000578511","00000000000000579611","00000000000000589611","00000000000000467411","00000000000000445211"];
const d51o = ["0011123444321","0011123445321","0011123454321","0011123554321","0011123554321","0011123455321","0011123566421","0011124667421","0011124677421","0011124687421","0011124797421","0011124797421","0011124897421","0011124887421","0011124897421","0011124897421","0011124998421","0011125998421","0011125999421","0011125999421"];
const d52b = ["00000000000221111100","00000000000221111100","00000000000221111100","00000000000221111100","00000000000111111100","00000000000331111100","00000000000431111100","00000000000222221100","00000000000222221100","00000000000222211100","00000000000122111100","00000000000111111100","00000000000121111100","00000000000041111100","00000000000041111100","00000000000031111100","00000000000011111100","00000000000011111100","00000000000011111100","00000000000011111100"];
const d52o = ["0111234433111","0111234533111","0111235533111","0111235543111","0111235543111","0111236643111","0111246643211","0111246643211","0111356643211","0111357743211","0111367753211","0111368753211","0111468754211","0111468754211","0111478864211","0111578864211","0111578864211","0111479964211","0111469974211","0111459974211"];
const d53b = ["00000000000000000121","00000000000000000111","00000000000000000111","00000000000000001111","00000000000000001111","00000000000000011110","00000000000000011100","00000000000000011000","00000000000000021000","00000000000000031000","00000000000000031000","00000000000000034100","00000000000000045100","00000000000000056100","00000000000000056100","00000000000000065100","00000000000005631000","00000000000009631000","00000000000008421000","00000000000004321000"];
const d53o = ["00000000001","000000001111","0000000011111","0000000111111","0000000111211","0000000112221","0000000122221","0000000122321","0000001122321","0000000134321","0000000124321","0000000247531","0000000359831"];
const d54b = ["0000000000000053","0000000000000053","0000000000000053","0000000000000053","0000000000000043","0000000000000043","0000000000000043","00000000000000053","00000000000000054","00000000000000045","000000000000000053","000000000000000043","000000000000000031","","","","","","",""];
const d54o = ["00000013444556531","00000013444568531","00000013444579531","00000113444468531","00000123445556431","00000123445566431","00000123445566421","00001234556666421","00011233556676421","00112334566676321","01122345666775321","11223345677665321","11223344578765321","11222334577654321","11222334455543321","11222334445443322","11223334444443332","11223334444444333","11333334444444433","11444333444444444"];

const panelList = [
  { r: 1, c: 0, bo: c10bo, bi: c10bi, oo: c10oo, oi: c10oi, db: d10b, dO: d10o, sb: s10b, so: s10o },
  { r: 2, c: 0, bo: c20bo, bi: c20bi, oo: c20oo, oi: c20oi, db: d20b, dO: d20o, sb: s20b, so: s20o },
  { r: 2, c: 1, bo: c21bo, bi: c21bi, oo: c21oo, oi: c21oi, db: d21b, dO: d21o, sb: s21b, so: s21o },
  { r: 3, c: 0, bo: c30bo, bi: c30bi, oo: c30oo, oi: c30oi, db: d30b, dO: d30o, sb: s30b, so: s30o },
  { r: 3, c: 1, bo: c31bo, bi: c31bi, oo: c31oo, oi: c31oi, db: d31b, dO: d31o, sb: s31b, so: s31o },
  { r: 3, c: 2, bo: c32bo, bi: c32bi, oo: c32oo, oi: c32oi, db: d32b, dO: d32o, sb: s32b, so: s32o },
  { r: 4, c: 0, bo: c40bo, bi: c40bi, oo: c40oo, oi: c40oi, db: d40b, dO: d40o, sb: s40b, so: s40o },
  { r: 4, c: 1, bo: c41bo, bi: c41bi, oo: c41oo, oi: c41oi, db: d41b, dO: d41o, sb: s41b, so: s41o },
  { r: 4, c: 2, bo: c42bo, bi: c42bi, oo: c42oo, oi: c42oi, db: d42b, dO: d42o, sb: s42b, so: s42o },
  { r: 4, c: 3, bo: c43bo, bi: c43bi, oo: c43oo, oi: c43oi, db: d43b, dO: d43o, sb: s43b, so: s43o },
  { r: 5, c: 0, bo: c50bo, bi: c50bi, oo: c50oo, oi: c50oi, db: d50b, dO: d50o, sb: [], so: [] },
  { r: 5, c: 1, bo: c51bo, bi: c51bi, oo: c51oo, oi: c51oi, db: d51b, dO: d51o, sb: s51b, so: s51o },
  { r: 5, c: 2, bo: c52bo, bi: c52bi, oo: c52oo, oi: c52oi, db: d52b, dO: d52o, sb: s52b, so: s52o },
  { r: 5, c: 3, bo: c53bo, bi: c53bi, oo: c53oo, oi: c53oi, db: d53b, dO: d53o, sb: s53b, so: s53o },
  { r: 5, c: 4, bo: c54bo, bi: c54bi, oo: c54oo, oi: c54oi, db: d54b, dO: d54o, sb: s54b, so: s54o },
];

const axisNames = [
  "{a|log(Z)}",
  "{a|C/O}",
  "{a|log}{s|10}{a|(}{i|κ}{si|th}{a|)}",
  "{a|log}{s|10}{a|(}{i|γ}{si|v}{ss|1}{a|)}",
  "{a|log}{s|10}{a|(}{i|γ}{si|v}{ss|2}{a|)}",
  "{a|alpha}",
];
const titleValues = [" = 0.88", " = 0.52", " = −2.49", " = −0.52", " = −0.65", " = 0.22"];
const titleUpper = ["+0.25", "+0.11", "+0.13", "+0.14", "+0.54", "+0.17"];
const titleLower = ["−0.21", "−0.11", "−0.10", "−0.16", "−0.71", "−0.15"];
const titleEndX = [225, 421, 656, 861, 1068, 1252];
const titleY = [14, 219, 426, 632, 837, 1043];

const richFor = (size: number) => {
  const base = { fontFamily: FONT, color: "#000" };
  const drop = size * 0.28;
  return {
    a: { ...base, fontSize: size, verticalAlign: "top", padding: [0, 0, drop, 0] },
    i: { ...base, fontSize: size, fontStyle: "italic", verticalAlign: "top", padding: [0, 0, drop, 0] },
    s: { ...base, fontSize: size * 0.7, verticalAlign: "bottom" },
    si: { ...base, fontSize: size * 0.7, fontStyle: "italic", verticalAlign: "bottom" },
    ss: { ...base, fontSize: size * 0.5, verticalAlign: "bottom" },
  };
};

const PX = (c: number) => 89.3 + 206 * c;
const PY = (r: number) => 28 + 205.9 * r;
const SIZE = 196;

const lerpX = (p: number, u: number) => ranges[p][0] + (u / 100) * (ranges[p][1] - ranges[p][0]);
const lerpY = (p: number, v: number) => ranges[p][1] - (v / 100) * (ranges[p][1] - ranges[p][0]);

function toPoints(flat: number[], xp: number, yp: number) {
  const out: number[][] = [];
  for (let i = 0; i + 1 < flat.length; i += 2) out.push([lerpX(xp, flat[i]), lerpY(yp, flat[i + 1])]);
  return out;
}

function buildCells(rows: string[], xp: number, yp: number, xs: number, xw: number, ys: number, yw: number) {
  const out: number[][] = [];
  rows.forEach((s, i) => {
    const k = rows.length - 1 - i;
    for (let c = 0; c < s.length; c++) {
      const d = Number(s[c]);
      if (!d) continue;
      out.push([
        lerpX(xp, xs + c * xw),
        lerpX(yp, ys + k * yw),
        lerpX(xp, xs + (c + 1) * xw),
        lerpX(yp, ys + (k + 1) * yw),
        Math.pow(d / 9, 1.4),
      ]);
    }
  });
  return out;
}

function stepPoints(heights: number[], p: number, start: number, width: number) {
  const out: number[][] = [[lerpX(p, start), 0]];
  heights.forEach((h, i) => {
    out.push([lerpX(p, start + i * width), h]);
    out.push([lerpX(p, start + (i + 1) * width), h]);
  });
  out.push([lerpX(p, start + heights.length * width), 0]);
  return out;
}

function buildOption() {
  const grid: any[] = [];
  const xAxis: any[] = [];
  const yAxis: any[] = [];
  const series: any[] = [];
  const graphic: any[] = [];
  let idx = 0;

  const axisCommon = (p: number | null, show: boolean, tickVals: number[], lo: number, hi: number, extra: any) => ({
    type: "value",
    min: lo,
    max: hi,
    scale: true,
    splitLine: { show: false },
    axisLine: { show: true, onZero: false, lineStyle: { color: "#000", width: 1 } },
    axisTick: { show: true, length: 4.7, customValues: tickVals, lineStyle: { color: "#000", width: 1 } },
    axisLabel: {
      show,
      customValues: tickVals,
      rotate: 45,
      fontFamily: FONT,
      fontSize: 13.3,
      color: "#000",
      formatter: (v: number) => (p === null ? "" : Number(v).toFixed(decimals[p]).replace("-", "−")),
      ...extra,
    },
  });

  const addPanel = (r: number, c: number, yp: number | null) => {
    grid.push({ left: PX(c), top: PY(r), width: SIZE, height: SIZE, show: false });
    const xExtra = { align: "center", verticalAlign: "middle", margin: decimals[c] === 2 ? 30 : 24 };
    xAxis.push({ gridIndex: idx, position: "bottom", ...axisCommon(c, r === 5, ticks[c], ranges[c][0], ranges[c][1], xExtra) });
    if (yp === null) {
      const step = histTickStep[c];
      const vals: number[] = [];
      for (let i = 0; i * step <= 100; i++) vals.push(i * step);
      yAxis.push({ gridIndex: idx, position: "left", ...axisCommon(null, false, vals, 0, 100, {}) });
    } else {
      yAxis.push({ gridIndex: idx, position: "left", ...axisCommon(yp, c === 0, ticks[yp], ranges[yp][0], ranges[yp][1], { margin: 13 }) });
    }
    const ax = idx;
    idx++;
    return ax;
  };

  const lineSeries = (ax: number, data: number[][], color: string, width: number, z: number, clip = true) => ({
    type: "line",
    xAxisIndex: ax,
    yAxisIndex: ax,
    data,
    showSymbol: false,
    symbol: "none",
    silent: true,
    clip,
    z,
    lineStyle: { color, width, join: "round" },
    emphasis: { disabled: true },
  });

  const dotSeries = (ax: number, data: number[][], color: string) => ({
    type: "scatter",
    xAxisIndex: ax,
    yAxisIndex: ax,
    symbolSize: 3,
    silent: true,
    z: 1,
    itemStyle: { color, opacity: 0.22 },
    data,
  });

  const fillSeries = (ax: number, pts: number[][], z: number) => ({
    type: "custom",
    xAxisIndex: ax,
    yAxisIndex: ax,
    silent: true,
    z,
    data: [[pts[0][0], pts[0][1]]],
    renderItem: (params: any, api: any) => {
      const cs = params.coordSys;
      const px = pts.map((q) => api.coord(q));
      const clipped = echarts.graphic.clipPointsByRect(px, { x: cs.x, y: cs.y, width: cs.width, height: cs.height });
      return { type: "polygon", shape: { points: clipped }, style: { fill: "#ffffff" } };
    },
  });

  const cellSeries = (ax: number, cells: number[][], rgb: string, z: number) => ({
    type: "custom",
    xAxisIndex: ax,
    yAxisIndex: ax,
    silent: true,
    z,
    data: cells,
    encode: { x: 0, y: 1 },
    renderItem: (params: any, api: any) => {
      const a = api.coord([api.value(0), api.value(1)]);
      const b = api.coord([api.value(2), api.value(3)]);
      const cs = params.coordSys;
      const shape = echarts.graphic.clipRectByRect(
        { x: a[0], y: b[1], width: b[0] - a[0], height: a[1] - b[1] },
        { x: cs.x, y: cs.y, width: cs.width, height: cs.height }
      );
      if (!shape) return null;
      return { type: "rect", shape, style: { fill: `rgba(${rgb},${api.value(4)})` } };
    },
  });

  const addFrameAndTruth = (ax: number, xp: number, yp: number | null, lo: number, hi: number) => {
    const [xl, xh] = ranges[xp];
    series.push(lineSeries(ax, [[truths[xp], lo], [truths[xp], hi]], TRUTH, 1.9, 8));
    if (yp !== null) {
      series.push(lineSeries(ax, [[xl, truths[yp]], [xh, truths[yp]]], TRUTH, 1.9, 8));
      series.push({
        type: "scatter",
        xAxisIndex: ax,
        yAxisIndex: ax,
        symbol: "rect",
        symbolSize: 10,
        silent: true,
        z: 9,
        itemStyle: { color: TRUTH },
        data: [[truths[xp], truths[yp]]],
      });
    }
    series.push(lineSeries(ax, [[xl, lo], [xh, lo], [xh, hi], [xl, hi], [xl, lo]], "#222", 1, 10, false));
  };

  // diagonal
  for (let d = 0; d < 6; d++) {
    const ax = addPanel(d, d, null);
    series.push(lineSeries(ax, stepPoints(histBlue[d], d, blueBinStart[d], blueBinWidth[d]), BLUE, 1.35, 6));
    series.push(lineSeries(ax, stepPoints(histOrange[d], d, 0, 5), ORANGE, 1.35, 7));
    addFrameAndTruth(ax, d, null, 0, 100);
    graphic.push({
      type: "text",
      x: titleEndX[d],
      y: titleY[d] + 2,
      silent: true,
      style: {
        text: axisNames[d] + `{a|${titleValues[d]}}`,
        rich: richFor(16.4),
        align: "right",
        verticalAlign: "middle",
        fontFamily: FONT,
      },
    });
    graphic.push({ type: "text", x: titleEndX[d], y: titleY[d] - 5, silent: true, style: { text: titleUpper[d], fontFamily: FONT, fontSize: 11.2, fill: "#000", align: "left", verticalAlign: "middle" } });
    graphic.push({ type: "text", x: titleEndX[d], y: titleY[d] + 6, silent: true, style: { text: titleLower[d], fontFamily: FONT, fontSize: 11.2, fill: "#000", align: "left", verticalAlign: "middle" } });
    graphic.push({
      type: "text",
      x: PX(d) + SIZE / 2,
      y: 1323,
      silent: true,
      style: { text: axisNames[d], rich: richFor(18.67), align: "center", verticalAlign: "middle", fontFamily: FONT },
    });
    if (d > 0) {
      graphic.push({
        type: "text",
        x: 22,
        y: PY(d) + SIZE / 2,
        rotation: Math.PI / 2,
        silent: true,
        style: { text: axisNames[d], rich: richFor(18.67), align: "center", verticalAlign: "middle", fontFamily: FONT },
      });
    }
  }

  // off-diagonal
  panelList.forEach((p) => {
    const ax = addPanel(p.r, p.c, p.r);
    const xp = p.c;
    const yp = p.r;
    const blueRing = toPoints(p.bo, xp, yp);
    const orangeRing = toPoints(p.oo, xp, yp);
    series.push(dotSeries(ax, toPoints(p.sb, xp, yp), BLUE));
    series.push(dotSeries(ax, toPoints(p.so, xp, yp), ORANGE));
    series.push(fillSeries(ax, blueRing, 2));
    series.push(cellSeries(ax, buildCells(p.db, xp, yp, blueBinStart[xp], blueBinWidth[xp], blueBinStart[yp], blueBinWidth[yp]), "0,0,255", 3));
    series.push(fillSeries(ax, orangeRing, 4));
    series.push(cellSeries(ax, buildCells(p.dO, xp, yp, 0, 5, 0, 5), "255,165,0", 5));
    series.push(lineSeries(ax, blueRing, BLUE, 1.9, 6));
    p.bi.forEach((flat: number[]) => series.push(lineSeries(ax, toPoints(flat, xp, yp), BLUE, 1.9, 6)));
    series.push(lineSeries(ax, orangeRing, ORANGE, 1.9, 7));
    p.oi.forEach((flat: number[]) => series.push(lineSeries(ax, toPoints(flat, xp, yp), ORANGE, 1.9, 7)));
    addFrameAndTruth(ax, xp, yp, ranges[yp][0], ranges[yp][1]);
  });

  return { animation: false, backgroundColor: "#fff", grid, xAxis, yAxis, series, graphic };
}

export default function App() {
  const ref = useRef<HTMLDivElement>(null);
  useEffect(() => {
    if (!ref.current) return;
    const chart = echarts.init(ref.current, undefined, { renderer: "svg" });
    chart.setOption(buildOption() as any);
    return () => chart.dispose();
  }, []);
  return <div ref={ref} style={{ position: "absolute", left: 0, top: 0, width: 1325, height: 1335 }} />;
}
